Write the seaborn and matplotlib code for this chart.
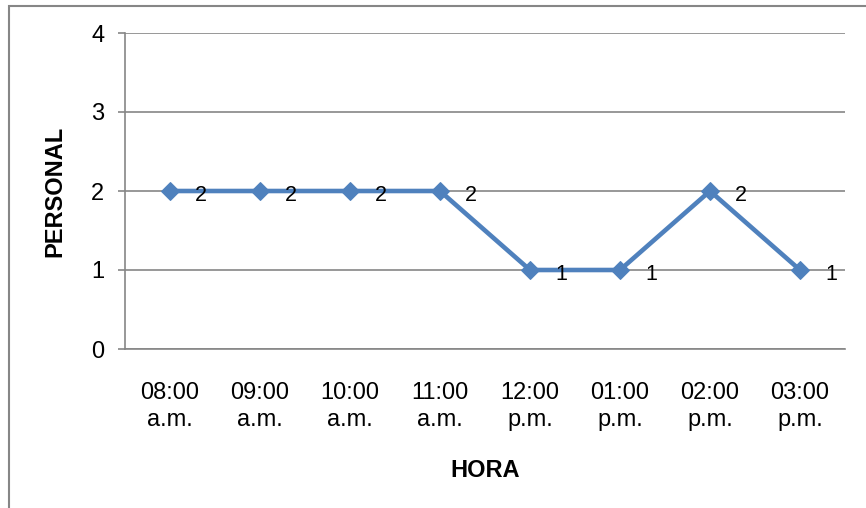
import matplotlib
matplotlib.use("Agg")
import matplotlib.pyplot as plt
import seaborn as sns
import pandas as pd
from matplotlib.patches import Rectangle

# Datos
horas = ["08:00\na.m.", "09:00\na.m.", "10:00\na.m.", "11:00\na.m.",
         "12:00\np.m.", "01:00\np.m.", "02:00\np.m.", "03:00\np.m."]
personal = [2, 2, 2, 2, 1, 1, 2, 1]

azul = "#4F81BD"
gris = "#868686"

sns.set_style("white")
plt.rcParams["font.family"] = ["Liberation Sans", "DejaVu Sans"]
plt.rcParams["text.color"] = "black"
plt.rcParams["axes.labelcolor"] = "black"

df = pd.DataFrame({"hora": horas, "personal": personal})

fig = plt.figure(figsize=(8.66, 5.08), dpi=100)
ax = fig.add_axes([125 / 866, 1 - 349 / 508, 720 / 866, 316 / 508])

sns.lineplot(data=df, x="hora", y="personal", ax=ax, color=azul, linewidth=3.3,
             marker="D", markersize=9.5, markeredgecolor=azul, sort=False)

for i, v in enumerate(personal):
    ax.annotate(str(v), (i, v), xytext=(18, -3.5), textcoords="offset points",
                ha="left", va="center", fontsize=15.5, color="black")

ax.set_xlim(-0.5, len(horas) - 0.5)
ax.set_ylim(0, 4)
ax.set_yticks([0, 1, 2, 3, 4])
ax.yaxis.grid(True, color=gris, linewidth=1.2)
ax.set_axisbelow(True)

for s in ["top", "right"]:
    ax.spines[s].set_visible(False)
ax.spines["left"].set_color(gris)
ax.spines["bottom"].set_color(gris)
ax.spines["left"].set_linewidth(1.2)
ax.spines["bottom"].set_linewidth(1.2)

ax.tick_params(axis="y", left=True, length=5, color=gris, width=1.2,
               labelsize=17, pad=10, labelcolor="black")
ax.tick_params(axis="x", bottom=False, labelsize=17, pad=20, labelcolor="black")
for lbl in ax.get_xticklabels():
    lbl.set_linespacing(1.3)

ax.set_xlabel("HORA", fontsize=17, fontweight="bold", labelpad=20)
ax.set_ylabel("PERSONAL", fontsize=17, fontweight="bold", labelpad=18)

# marco del gráfico
fig.patches.append(Rectangle((9 / 866, -0.1), 1.0, 1 - 6 / 508 + 0.1,
                             transform=fig.transFigure, fill=False,
                             edgecolor=gris, linewidth=1.5))

fig.savefig("out.png", dpi=100)
